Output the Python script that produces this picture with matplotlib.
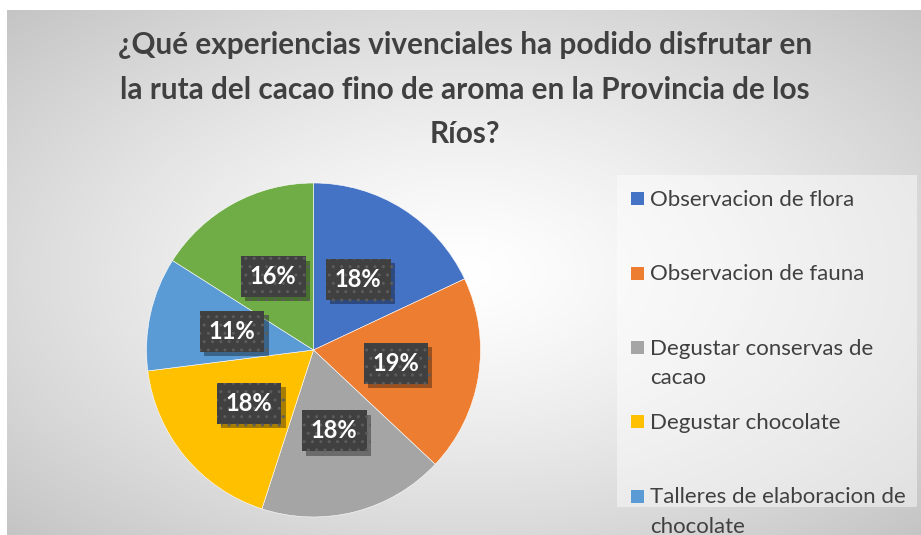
import matplotlib.pyplot as plt
import matplotlib.patheffects as pe
import numpy as np
from matplotlib.patches import Rectangle

title = ('¿Qué experiencias vivenciales ha podido disfrutar en\n'
         'la ruta del cacao fino de aroma en la Provincia de los\n'
         'Ríos?')
labels = ['Observacion de flora', 'Observacion de fauna',
          'Degustar conservas de\ncacao', 'Degustar chocolate',
          'Talleres de elaboracion de\nchocolate', 'Otras experiencias']
values = [18, 19, 18, 18, 11, 16]
colors = ['#4472C4', '#ED7D31', '#A5A5A5', '#FFC000', '#5B9BD5', '#70AD47']

W, H = 921, 535
plt.rcParams['font.family'] = ['Lato', 'DejaVu Sans']

fig = plt.figure(figsize=(W / 100, H / 100), dpi=100)
fig.patch.set_facecolor('white')

# chart area with a radial grey gradient
bg = fig.add_axes([7 / W, 0, 1 - 7 / W, 1 - 10 / H], zorder=0)
yy, xx = np.mgrid[-1:1:300j, -1:1:500j]
r = np.sqrt(xx ** 2 + yy ** 2) / np.sqrt(2)
shade = 1 - 0.23 * r ** 1.3
bg.imshow(np.dstack([shade] * 3), aspect='auto', interpolation='bilinear')
bg.axis('off')

fig.text(465 / W, 1 - 31 / H, title, ha='center', va='top', fontsize=21.4,
         fontweight='bold', color='#404040', linespacing=1.72, zorder=3)

# pie
cx, cy, rad = 313.5, 350, 167
ax = fig.add_axes([(cx - rad) / W, (H - cy - rad) / H, 2 * rad / W,
                   2 * rad / H], zorder=2)
wedges, texts, autotexts = ax.pie(
    values, colors=colors, startangle=90, counterclock=False,
    autopct='%1.0f%%', pctdistance=0.5,
    wedgeprops=dict(edgecolor='white', linewidth=0.4))
ax.set_aspect('equal')
ax.set_xlim(-1, 1)
ax.set_ylim(-1, 1)

for t in autotexts:
    t.set_color('white')
    t.set_fontsize(17)
    t.set_fontweight('bold')
    t.set_bbox(dict(boxstyle='square,pad=0.38', facecolor='#404040',
                    edgecolor='#5c5c5c', linewidth=0, hatch='..'))
    t.get_bbox_patch().set_path_effects([
        pe.withSimplePatchShadow(offset=(3, -3), shadow_rgbFace='black',
                                 alpha=0.35), pe.Normal()])

# legend panel
fig.patches.append(Rectangle((617 / W, 1 - 507 / H), 300 / W, 332 / H,
                             transform=fig.transFigure, facecolor='white',
                             alpha=0.45, edgecolor='none', zorder=1))
for i, (lab, col) in enumerate(zip(labels[:5], colors[:5])):
    yc = 199 + i * 74.3
    fig.patches.append(Rectangle((631 / W, 1 - (yc + 6.5) / H), 13 / W,
                                 13 / H, transform=fig.transFigure,
                                 facecolor=col, edgecolor='none', zorder=3))
    fig.text(650 / W, 1 - (yc - 9) / H, lab, ha='left', va='top',
             fontsize=16, color='#404040', linespacing=1.6, zorder=3)

fig.savefig('out.png', dpi=100)
